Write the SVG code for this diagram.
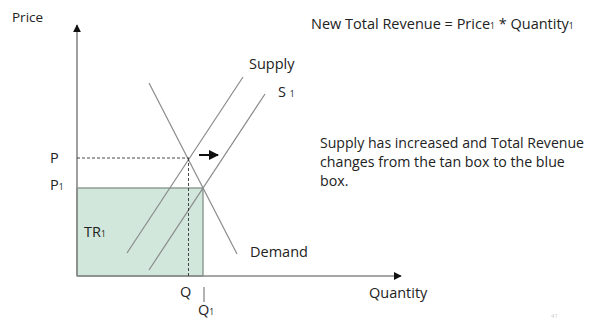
<svg xmlns="http://www.w3.org/2000/svg" width="589" height="320" viewBox="0 0 589 320">
<defs>
<style>
text{font-family:"Open Sans","Liberation Sans",sans-serif;fill:#222;font-size:14.5px}
.sub{font-size:8.5px}
.para{font-size:14.2px}
.ln{stroke:#8a8a8a;stroke-width:1.2;fill:none}
.ax{stroke:#888;stroke-width:1.6;fill:none}
.dash{stroke:#333;stroke-width:0.9;stroke-dasharray:3,2;fill:none}
</style>
<marker id="ah" viewBox="0 0 10 10" refX="9" refY="5" markerWidth="5" markerHeight="5" orient="auto"><path d="M0,0L10,5L0,10z" fill="#111"/></marker>
</defs>
<rect width="589" height="320" fill="#fff"/>
<g id="tr-box"><rect x="77" y="188" width="126" height="88" fill="#d1e7db" stroke="#7a8a80" stroke-width="1.2"/><text x="84" y="237">TR<tspan class="sub">1</tspan></text></g>
<g id="connectors">
<line class="ax" x1="77" y1="276" x2="77" y2="25" marker-end="url(#ah)"/>
<line class="ax" x1="77" y1="276" x2="401" y2="276" marker-end="url(#ah)"/>
<line class="ln" x1="243" y1="77" x2="127" y2="253"/>
<line class="ln" x1="265" y1="94" x2="149" y2="270"/>
<line class="ln" x1="149" y1="83" x2="237" y2="254"/>
<line class="dash" x1="77" y1="158" x2="189" y2="158"/>
<line class="dash" x1="188.5" y1="158" x2="188.5" y2="276"/>
<line x1="199" y1="155" x2="218" y2="155" stroke="#111" stroke-width="2" marker-end="url(#ah)"/>
<line x1="204" y1="287" x2="204" y2="302" stroke="#666" stroke-width="1"/>
</g>
<g id="labels">
<text x="12" y="22" style="font-size:13.5px">Price</text>
<text x="311" y="29">New Total Revenue = Price<tspan class="sub">1</tspan> * Quantity<tspan class="sub">1</tspan></text>
<text x="249" y="69">Supply</text>
<text x="278" y="97">S <tspan class="sub">1</tspan></text>
<text class="para" x="320" y="148" textLength="264" lengthAdjust="spacingAndGlyphs">Supply has increased and Total Revenue</text>
<text class="para" x="320" y="167">changes from the tan box to the blue</text>
<text class="para" x="320" y="186">box.</text>
<text x="50" y="163">P</text>
<text x="50" y="190">P<tspan class="sub">1</tspan></text>
<text x="250" y="257">Demand</text>
<text x="180" y="297">Q</text>
<text x="198" y="315">Q<tspan class="sub">1</tspan></text>
<text x="369" y="298">Quantity</text>
<text x="551" y="318" style="font-size:6px;fill:#ccc">41</text>
</g>
</svg>
